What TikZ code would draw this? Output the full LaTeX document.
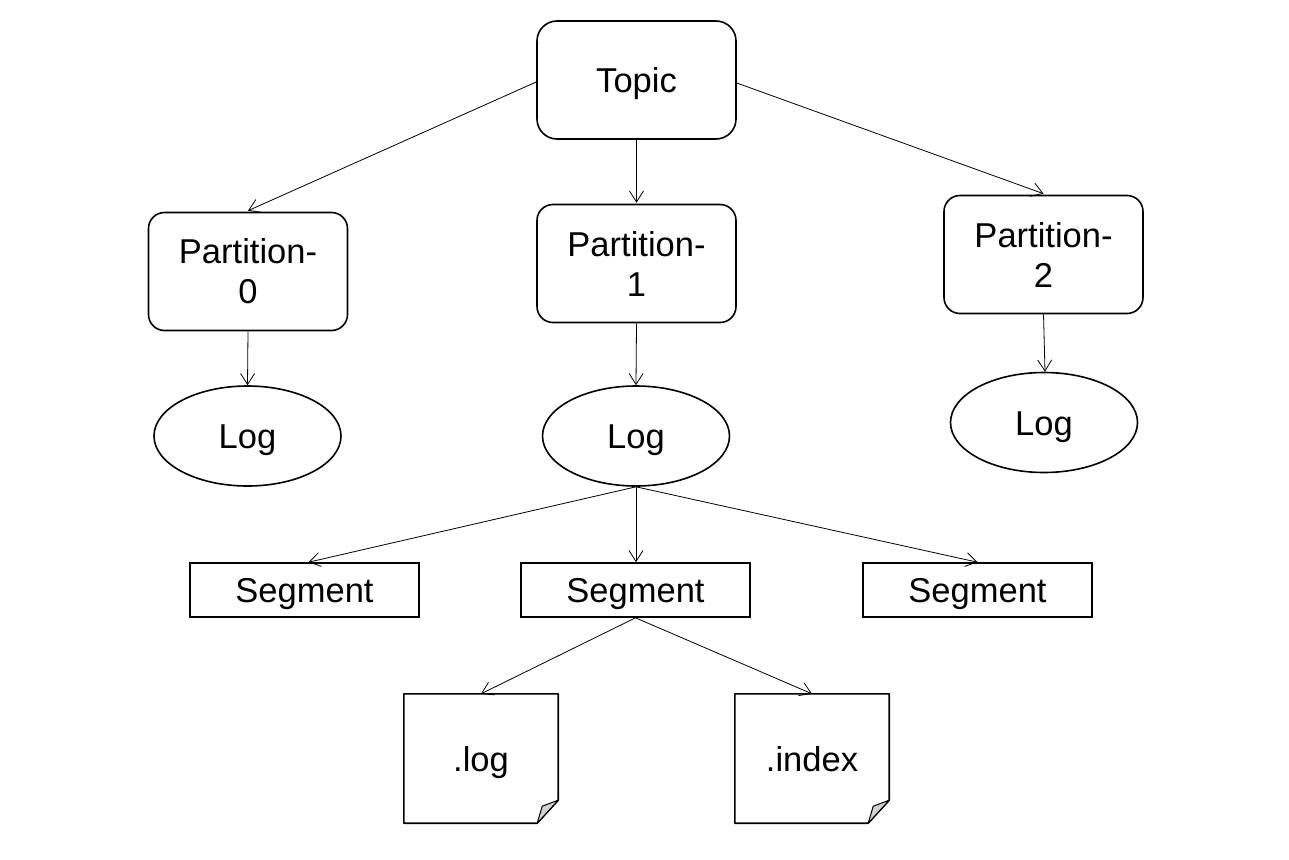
\documentclass[tikz,border=0pt]{standalone}
\usepackage{fontspec}
\setmainfont{Liberation Sans}
\usetikzlibrary{arrows.meta,shapes.geometric}
\begin{document}
\begin{tikzpicture}[x=1pt,y=-1pt,
  every node/.style={font=\fontsize{34.5}{40}\selectfont, inner sep=0pt},
  one/.style={text height=25pt, text depth=0pt},
  rbox/.style={draw, line width=1.6pt, rounded corners=16pt, minimum width=199pt, minimum height=118pt, align=center},
  ell/.style={one, draw, line width=1.6pt, ellipse, minimum width=187pt, minimum height=100pt},
  seg/.style={one, draw, line width=1.6pt, minimum width=229pt, minimum height=54pt},
  note/.style={one, minimum width=154pt, minimum height=129pt},
  arr/.style={line width=0.8pt, -{Straight Barb[length=11pt,width=14pt,line width=0.8pt]}}
]
\useasboundingbox (0,0) rectangle (1289,859);
\node[rbox, one, rounded corners=20pt] (topic) at (636.5,80) {Topic};
\node[rbox] (p0) at (248,271.5) {Partition-\\0};
\node[rbox] (p1) at (636.5,263.5) {Partition-\\1};
\node[rbox] (p2) at (1043.5,254.5) {Partition-\\2};
\node[ell] (l0) at (247.5,436) {Log};
\node[ell] (l1) at (636,436) {Log};
\node[ell] (l2) at (1044,422.5) {Log};
\node[seg] (s0) at (304.5,590) {Segment};
\node[seg] (s1) at (635.5,590) {Segment};
\node[seg] (s2) at (977.5,590) {Segment};
\node[note] (nl) at (481,758.5) {.log};
\node[note] (ni) at (812,758.5) {.index};
\foreach \n in {nl,ni}{
  \draw[line width=1.6pt, line join=round] (\n.north west) -- (\n.north east) -- ([yshift=23pt]\n.south east) -- ([xshift=-21pt]\n.south east) -- (\n.south west) -- cycle;
  \draw[line width=1pt, fill=gray!35, line join=round] ([xshift=-21pt]\n.south east) -- ([xshift=-16pt,yshift=17pt]\n.south east) -- ([yshift=23pt]\n.south east) -- cycle;
}
\draw[arr] ([yshift=-2pt]topic.west) -- ([yshift=1pt]p0.north);
\draw[arr] (topic.south) -- ([yshift=1pt]p1.north);
\draw[arr] ([yshift=-3pt]topic.east) -- ([yshift=1pt]p2.north);
\draw[arr] (p0.south) -- (l0.north);
\draw[arr] (p1.south) -- (l1.north);
\draw[arr] (p2.south) -- ([xshift=1pt]l2.north);
\draw[arr] (l1.south) -- ([xshift=4pt]s0.north);
\draw[arr] (l1.south) -- ([xshift=0.5pt]s1.north);
\draw[arr] (l1.south) -- (s2.north);
\draw[arr] (s1.south) -- (nl.north);
\draw[arr] (s1.south) -- (ni.north);
\end{tikzpicture}
\end{document}
